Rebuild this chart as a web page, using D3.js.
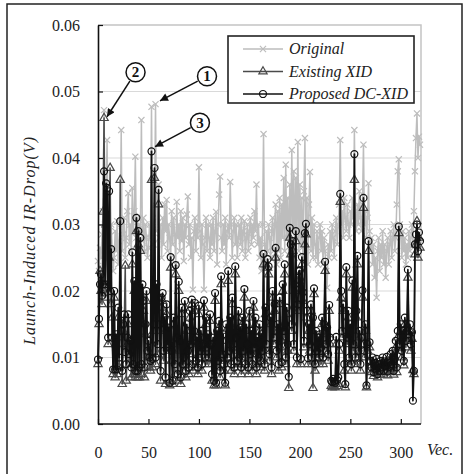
<!DOCTYPE html>
<html>
<head>
<meta charset="utf-8">
<script src="https://cdn.jsdelivr.net/npm/d3@7"></script>
<style>
  body { margin: 0; background: #fff; }
  svg, svg text { font-family: "Liberation Serif", "DejaVu Serif", serif !important; }
</style>
</head>
<body>
<svg id="chart" width="464" height="474"></svg>
<script>
// IR-drop per test vector (V)
const original = [
  0.0245, 0.0230, 0.0265, 0.0250, 0.0285, 0.0320, 0.0472, 0.0300, 0.0350, 0.0427,
  0.0280, 0.0255, 0.0240, 0.0300, 0.0265, 0.0230, 0.0250, 0.0290, 0.0260, 0.0305,
  0.0240, 0.0275, 0.0300, 0.0442, 0.0260, 0.0285, 0.0310, 0.0250, 0.0280, 0.0320,
  0.0347, 0.0270, 0.0300, 0.0260, 0.0355, 0.0290, 0.0320, 0.0402, 0.0280, 0.0310,
  0.0265, 0.0300, 0.0290, 0.0457, 0.0275, 0.0310, 0.0260, 0.0300, 0.0280, 0.0250,
  0.0265, 0.0300, 0.0280, 0.0477, 0.0300, 0.0270, 0.0330, 0.0481, 0.0290, 0.0310,
  0.0360, 0.0280, 0.0300, 0.0250, 0.0310, 0.0270, 0.0330, 0.0290, 0.0337, 0.0260,
  0.0300, 0.0280, 0.0250, 0.0320, 0.0270, 0.0310, 0.0285, 0.0240, 0.0334, 0.0280,
  0.0300, 0.0260, 0.0320, 0.0275, 0.0310, 0.0245, 0.0300, 0.0280, 0.0315, 0.0342,
  0.0270, 0.0300, 0.0250, 0.0280, 0.0202, 0.0290, 0.0310, 0.0260, 0.0300, 0.0280,
  0.0386, 0.0290, 0.0250, 0.0300, 0.0270, 0.0202, 0.0280, 0.0310, 0.0260, 0.0300,
  0.0280, 0.0250, 0.0300, 0.0270, 0.0310, 0.0260, 0.0290, 0.0319, 0.0240, 0.0300,
  0.0345, 0.0372, 0.0280, 0.0260, 0.0300, 0.0270, 0.0310, 0.0240, 0.0290, 0.0300,
  0.0280, 0.0364, 0.0300, 0.0250, 0.0290, 0.0310, 0.0270, 0.0300, 0.0250, 0.0280,
  0.0300, 0.0270, 0.0310, 0.0260, 0.0290, 0.0305, 0.0250, 0.0280, 0.0300, 0.0260,
  0.0290, 0.0310, 0.0270, 0.0300, 0.0280, 0.0320, 0.0290, 0.0360, 0.0270, 0.0300,
  0.0250, 0.0280, 0.0230, 0.0300, 0.0436, 0.0270, 0.0240, 0.0290, 0.0260, 0.0300,
  0.0280, 0.0250, 0.0290, 0.0310, 0.0260, 0.0300, 0.0330, 0.0240, 0.0320, 0.0260,
  0.0340, 0.0250, 0.0330, 0.0280, 0.0370, 0.0260, 0.0390, 0.0280, 0.0340, 0.0240,
  0.0360, 0.0270, 0.0412, 0.0290, 0.0380, 0.0250, 0.0370, 0.0280, 0.0424, 0.0260,
  0.0360, 0.0270, 0.0340, 0.0250, 0.0350, 0.0430, 0.0260, 0.0340, 0.0240, 0.0330,
  0.0379, 0.0260, 0.0310, 0.0250, 0.0300, 0.0270, 0.0250, 0.0290, 0.0240, 0.0280,
  0.0300, 0.0260, 0.0290, 0.0240, 0.0280, 0.0260, 0.0230, 0.0205, 0.0270, 0.0250,
  0.0290, 0.0260, 0.0300, 0.0280, 0.0250, 0.0290, 0.0310, 0.0270, 0.0300, 0.0330,
  0.0427, 0.0300, 0.0320, 0.0280, 0.0340, 0.0310, 0.0290, 0.0330, 0.0300, 0.0280,
  0.0320, 0.0300, 0.0340, 0.0310, 0.0442, 0.0320, 0.0290, 0.0330, 0.0300, 0.0350,
  0.0310, 0.0290, 0.0330, 0.0420, 0.0300, 0.0320, 0.0280, 0.0310, 0.0362, 0.0290,
  0.0260, 0.0280, 0.0240, 0.0270, 0.0220, 0.0250, 0.0190, 0.0260, 0.0280, 0.0230,
  0.0270, 0.0250, 0.0290, 0.0240, 0.0270, 0.0220, 0.0260, 0.0280, 0.0240, 0.0270,
  0.0290, 0.0250, 0.0280, 0.0300, 0.0260, 0.0280, 0.0330, 0.0380, 0.0398, 0.0300,
  0.0280, 0.0250, 0.0290, 0.0260, 0.0280, 0.0240, 0.0270, 0.0250, 0.0290, 0.0260,
  0.0280, 0.0300, 0.0270, 0.0320, 0.0380, 0.0430, 0.0467, 0.0400, 0.0432, 0.0420
]

const existingXid = [
  0.0090, 0.0150, 0.0230, 0.0200, 0.0180, 0.0319, 0.0460, 0.0190, 0.0300, 0.0250,
  0.0120, 0.0250, 0.0385, 0.0180, 0.0160, 0.0075, 0.0190, 0.0070, 0.0120, 0.0075,
  0.0160, 0.0085, 0.0367, 0.0130, 0.0060, 0.0140, 0.0150, 0.0238, 0.0065, 0.0120,
  0.0150, 0.0090, 0.0115, 0.0070, 0.0240, 0.0075, 0.0200, 0.0070, 0.0290, 0.0070,
  0.0270, 0.0070, 0.0260, 0.0075, 0.0190, 0.0170, 0.0070, 0.0135, 0.0185, 0.0095,
  0.0110, 0.0085, 0.0080, 0.0367, 0.0085, 0.0140, 0.0370, 0.0090, 0.0195, 0.0105,
  0.0330, 0.0140, 0.0065, 0.0175, 0.0185, 0.0095, 0.0150, 0.0060, 0.0165, 0.0110,
  0.0130, 0.0058, 0.0235, 0.0095, 0.0060, 0.0150, 0.0075, 0.0225, 0.0120, 0.0065,
  0.0200, 0.0110, 0.0060, 0.0165, 0.0080, 0.0090, 0.0175, 0.0070, 0.0140, 0.0095,
  0.0075, 0.0160, 0.0105, 0.0180, 0.0080, 0.0130, 0.0170, 0.0085, 0.0120, 0.0075,
  0.0165, 0.0100, 0.0130, 0.0080, 0.0110, 0.0175, 0.0090, 0.0150, 0.0100, 0.0125,
  0.0090, 0.0155, 0.0110, 0.0065, 0.0120, 0.0058, 0.0185, 0.0058, 0.0130, 0.0085,
  0.0145, 0.0070, 0.0210, 0.0095, 0.0125, 0.0080, 0.0058, 0.0140, 0.0090, 0.0215,
  0.0100, 0.0150, 0.0080, 0.0180, 0.0110, 0.0075, 0.0225, 0.0120, 0.0085, 0.0160,
  0.0090, 0.0135, 0.0075, 0.0150, 0.0100, 0.0190, 0.0080, 0.0140, 0.0110, 0.0075,
  0.0160, 0.0095, 0.0130, 0.0080, 0.0175, 0.0105, 0.0150, 0.0075, 0.0120, 0.0090,
  0.0140, 0.0085, 0.0125, 0.0100, 0.0240, 0.0080, 0.0165, 0.0110, 0.0235, 0.0225,
  0.0095, 0.0150, 0.0075, 0.0190, 0.0120, 0.0170, 0.0250, 0.0100, 0.0140, 0.0080,
  0.0180, 0.0115, 0.0085, 0.0200, 0.0130, 0.0225, 0.0090, 0.0165, 0.0110, 0.0054,
  0.0280, 0.0255, 0.0140, 0.0260, 0.0110, 0.0200, 0.0275, 0.0090, 0.0170, 0.0215,
  0.0220, 0.0090, 0.0240, 0.0185, 0.0115, 0.0270, 0.0285, 0.0160, 0.0090, 0.0140,
  0.0110, 0.0170, 0.0090, 0.0054, 0.0195, 0.0080, 0.0130, 0.0100, 0.0120, 0.0090,
  0.0125, 0.0105, 0.0150, 0.0090, 0.0140, 0.0230, 0.0110, 0.0135, 0.0095, 0.0170,
  0.0120, 0.0057, 0.0055, 0.0058, 0.0056, 0.0055, 0.0120, 0.0057, 0.0060, 0.0110,
  0.0334, 0.0190, 0.0130, 0.0170, 0.0080, 0.0055, 0.0225, 0.0120, 0.0160, 0.0090,
  0.0140, 0.0080, 0.0205, 0.0110, 0.0367, 0.0090, 0.0160, 0.0240, 0.0100, 0.0130,
  0.0080, 0.0120, 0.0190, 0.0325, 0.0100, 0.0140, 0.0055, 0.0110, 0.0260, 0.0115,
  0.0088, 0.0078, 0.0093, 0.0072, 0.0085, 0.0076, 0.0090, 0.0070, 0.0083, 0.0074,
  0.0088, 0.0079, 0.0093, 0.0074, 0.0087, 0.0080, 0.0094, 0.0073, 0.0085, 0.0079,
  0.0097, 0.0083, 0.0102, 0.0074, 0.0090, 0.0115, 0.0078, 0.0130, 0.0287, 0.0110,
  0.0140, 0.0100, 0.0130, 0.0088, 0.0150, 0.0115, 0.0130, 0.0220, 0.0125, 0.0140,
  0.0110, 0.0128, 0.0081, 0.0075, 0.0255, 0.0270, 0.0305, 0.0250, 0.0280, 0.0265
]

const proposedDcXid = [
  0.0097, 0.0158, 0.0210, 0.0225, 0.0193, 0.0210, 0.0380, 0.0210, 0.0362, 0.0355,
  0.0130, 0.0350, 0.0200, 0.0263, 0.0130, 0.0082, 0.0200, 0.0082, 0.0135, 0.0082,
  0.0175, 0.0100, 0.0305, 0.0140, 0.0080, 0.0150, 0.0165, 0.0108, 0.0090, 0.0130,
  0.0165, 0.0105, 0.0125, 0.0085, 0.0258, 0.0090, 0.0215, 0.0080, 0.0310, 0.0080,
  0.0290, 0.0085, 0.0280, 0.0090, 0.0210, 0.0185, 0.0085, 0.0150, 0.0200, 0.0110,
  0.0125, 0.0100, 0.0095, 0.0410, 0.0098, 0.0150, 0.0385, 0.0100, 0.0210, 0.0120,
  0.0352, 0.0150, 0.0080, 0.0190, 0.0197, 0.0110, 0.0160, 0.0070, 0.0180, 0.0120,
  0.0145, 0.0062, 0.0251, 0.0110, 0.0065, 0.0160, 0.0090, 0.0239, 0.0130, 0.0075,
  0.0214, 0.0125, 0.0070, 0.0175, 0.0090, 0.0100, 0.0185, 0.0080, 0.0150, 0.0110,
  0.0085, 0.0170, 0.0120, 0.0187, 0.0090, 0.0140, 0.0182, 0.0095, 0.0130, 0.0085,
  0.0178, 0.0110, 0.0140, 0.0090, 0.0120, 0.0186, 0.0100, 0.0160, 0.0115, 0.0135,
  0.0100, 0.0165, 0.0120, 0.0075, 0.0130, 0.0065, 0.0197, 0.0062, 0.0140, 0.0095,
  0.0155, 0.0080, 0.0222, 0.0105, 0.0135, 0.0090, 0.0062, 0.0150, 0.0100, 0.0230,
  0.0110, 0.0160, 0.0090, 0.0190, 0.0120, 0.0085, 0.0237, 0.0130, 0.0095, 0.0170,
  0.0100, 0.0145, 0.0085, 0.0160, 0.0110, 0.0203, 0.0090, 0.0150, 0.0120, 0.0085,
  0.0170, 0.0105, 0.0140, 0.0090, 0.0185, 0.0115, 0.0160, 0.0085, 0.0130, 0.0100,
  0.0150, 0.0095, 0.0135, 0.0110, 0.0256, 0.0090, 0.0175, 0.0120, 0.0248, 0.0237,
  0.0105, 0.0160, 0.0085, 0.0200, 0.0130, 0.0180, 0.0265, 0.0110, 0.0150, 0.0090,
  0.0190, 0.0125, 0.0093, 0.0210, 0.0140, 0.0240, 0.0100, 0.0175, 0.0120, 0.0071,
  0.0295, 0.0270, 0.0150, 0.0275, 0.0120, 0.0210, 0.0290, 0.0100, 0.0180, 0.0230,
  0.0231, 0.0098, 0.0251, 0.0198, 0.0125, 0.0287, 0.0301, 0.0170, 0.0099, 0.0150,
  0.0120, 0.0180, 0.0100, 0.0160, 0.0204, 0.0090, 0.0140, 0.0110, 0.0130, 0.0100,
  0.0135, 0.0115, 0.0160, 0.0100, 0.0150, 0.0244, 0.0120, 0.0145, 0.0105, 0.0179,
  0.0130, 0.0065, 0.0063, 0.0068, 0.0064, 0.0062, 0.0131, 0.0066, 0.0070, 0.0120,
  0.0346, 0.0200, 0.0140, 0.0180, 0.0090, 0.0060, 0.0236, 0.0130, 0.0170, 0.0100,
  0.0150, 0.0090, 0.0216, 0.0120, 0.0406, 0.0100, 0.0170, 0.0253, 0.0110, 0.0140,
  0.0090, 0.0130, 0.0201, 0.0340, 0.0110, 0.0150, 0.0058, 0.0120, 0.0275, 0.0123,
  0.0095, 0.0085, 0.0100, 0.0078, 0.0092, 0.0082, 0.0098, 0.0075, 0.0090, 0.0080,
  0.0095, 0.0085, 0.0100, 0.0080, 0.0094, 0.0087, 0.0101, 0.0079, 0.0092, 0.0086,
  0.0105, 0.0090, 0.0110, 0.0080, 0.0098, 0.0125, 0.0085, 0.0140, 0.0297, 0.0120,
  0.0150, 0.0110, 0.0140, 0.0095, 0.0160, 0.0125, 0.0140, 0.0232, 0.0135, 0.0150,
  0.0120, 0.0138, 0.0035, 0.0080, 0.0270, 0.0285, 0.0300, 0.0260, 0.0288, 0.0275
]

const xTicks = [0, 50, 100, 150, 200, 250, 300]
const yTicks = [0, 0.01, 0.02, 0.03, 0.04, 0.05, 0.06]

// circled callouts: [label, target vec, target V, label vec, label V]
const callouts = [
  ['1', 61.4, 0.0486, 108, 0.0523],
  ['2', 8.9, 0.0462, 37.2, 0.0529],
  ['3', 56.5, 0.0417, 101, 0.0453]
]

const series = [
  { name: 'Original', values: original, color: '#bdbdbd', width: 1.5, symbol: d3.symbolX, size: 26 },
  { name: 'Existing XID', values: existingXid, color: '#4a4a4a', width: 1.5, symbol: d3.symbolTriangle, size: 30 },
  { name: 'Proposed DC-XID', values: proposedDcXid, color: '#111111', width: 1.7, symbol: d3.symbolCircle, size: 38 }
]

const serif = 'Liberation Serif, DejaVu Serif, serif'
const svg = d3.select('#chart').attr('font-family', serif)

// outer frame (bottom edge falls outside the picture)
svg.append('path')
  .attr('d', 'M7,474V4H462V474')
  .attr('fill', 'none')
  .attr('stroke', '#222')
  .attr('stroke-width', 1.5)

const x = d3.scaleLinear().domain([0, 320]).range([98, 421])
const y = d3.scaleLinear().domain([0, 0.06]).range([424, 25])

// grid and plot frame
svg.append('g')
  .selectAll('line')
  .data(yTicks.slice(1, -1))
  .enter()
  .append('line')
  .attr('x1', x(0))
  .attr('x2', x(320))
  .attr('y1', d => y(d))
  .attr('y2', d => y(d))
  .attr('stroke', '#d9d9d9')
  .attr('stroke-width', 1.2)

svg.append('path')
  .attr('d', `M${x(0)},${y(0.06)}H${x(320)}V${y(0)}`)
  .attr('fill', 'none')
  .attr('stroke', '#c4c4c4')
  .attr('stroke-width', 1.5)

// series lines and markers
const line = d3.line()
  .x((d, i) => x(i))
  .y(d => y(d))

series.forEach(s => {
  const g = svg.append('g')
  g.append('path')
    .datum(s.values)
    .attr('d', line)
    .attr('fill', 'none')
    .attr('stroke', s.color)
    .attr('stroke-width', s.width)
    .attr('stroke-linejoin', 'round')
  g.selectAll('path.marker')
    .data(s.values)
    .enter()
    .append('path')
    .attr('class', 'marker')
    .attr('d', d3.symbol(s.symbol, s.size))
    .attr('transform', (d, i) => `translate(${x(i)},${y(d)})`)
    .attr('fill', 'none')
    .attr('stroke', s.color)
    .attr('stroke-width', 1.2)
})

// axes
const yAxis = svg.append('g')
  .attr('transform', `translate(${x(0)},0)`)
  .call(d3.axisLeft(y).tickValues(yTicks).tickFormat(d3.format('.2f'))
    .tickSizeInner(-5).tickSizeOuter(0).tickPadding(18))
const xAxis = svg.append('g')
  .attr('transform', `translate(0,${y(0)})`)
  .call(d3.axisBottom(x).tickValues(xTicks).tickFormat(d3.format('d'))
    .tickSizeInner(-5).tickSizeOuter(0).tickPadding(23))

for (const a of [xAxis, yAxis]) {
  a.attr('font-family', serif)
  a.select('.domain').attr('stroke', '#111').attr('stroke-width', 1.6)
  a.selectAll('.tick line').attr('stroke', '#111').attr('stroke-width', 1.2)
  a.selectAll('.tick text')
    .attr('font-size', 16)
    .attr('fill', '#222')
}
xAxis.select('.domain').attr('d', `M${x(0)},0H${x(320)}`)

// axis titles
svg.append('text')
  .attr('transform', 'rotate(-90)')
  .attr('x', -241)
  .attr('y', 35)
  .attr('text-anchor', 'middle')
  .attr('font-size', 16)
  .attr('font-style', 'italic')
  .attr('fill', '#222')
  .attr('textLength', 208)
  .text('Launch-Induced IR-Drop(V)')

svg.append('text')
  .attr('x', 427)
  .attr('y', 455)
  .attr('font-size', 16)
  .attr('font-style', 'italic')
  .attr('fill', '#222')
  .text('Vec.')

// legend
const legend = svg.append('g').attr('transform', 'translate(228,36)')
legend.append('rect')
  .attr('width', 186)
  .attr('height', 67)
  .attr('fill', '#fff')
  .attr('stroke', '#222')
  .attr('stroke-width', 1.6)

const items = legend.selectAll('g.item')
  .data(series)
  .enter()
  .append('g')
  .attr('class', 'item')
  .attr('transform', (d, i) => `translate(0,${13 + i * 22.5})`)
items.append('line')
  .attr('x1', 15)
  .attr('x2', 55)
  .attr('stroke', d => d.color)
  .attr('stroke-width', d => d.width)
items.append('path')
  .attr('d', d => d3.symbol(d.symbol, d.size)())
  .attr('transform', 'translate(35,0)')
  .attr('fill', 'none')
  .attr('stroke', d => d.color)
  .attr('stroke-width', 1.2)
items.append('text')
  .attr('x', 61)
  .attr('y', 5)
  .attr('font-size', 16)
  .attr('font-style', 'italic')
  .attr('fill', '#222')
  .text(d => d.name)

// callouts with arrows
svg.append('defs').append('marker')
  .attr('id', 'head')
  .attr('viewBox', '0 0 10 10')
  .attr('refX', 10)
  .attr('refY', 5)
  .attr('markerWidth', 10)
  .attr('markerHeight', 8)
  .attr('markerUnits', 'userSpaceOnUse')
  .attr('orient', 'auto')
  .append('path')
  .attr('d', 'M0,0L10,5L0,10Z')
  .attr('fill', '#111')

const r = 9.5
callouts.forEach(([label, tx, ty, cx, cy]) => {
  const px = x(cx)
  const py = y(cy)
  const ex = x(tx)
  const ey = y(ty)
  const len = Math.hypot(ex - px, ey - py)
  const sx = px + (ex - px) / len * (r + 1)
  const sy = py + (ey - py) / len * (r + 1)
  svg.append('line')
    .attr('x1', sx)
    .attr('y1', sy)
    .attr('x2', ex)
    .attr('y2', ey)
    .attr('stroke', '#111')
    .attr('stroke-width', 1.5)
    .attr('marker-end', 'url(#head)')
  svg.append('circle')
    .attr('cx', px)
    .attr('cy', py)
    .attr('r', r)
    .attr('fill', '#fff')
    .attr('stroke', '#111')
    .attr('stroke-width', 1.5)
  svg.append('text')
    .attr('x', px)
    .attr('y', py + 5)
    .attr('text-anchor', 'middle')
    .attr('font-size', 15)
    .attr('font-weight', 'bold')
    .attr('fill', '#111')
    .text(label)
})
</script>
</body>
</html>
